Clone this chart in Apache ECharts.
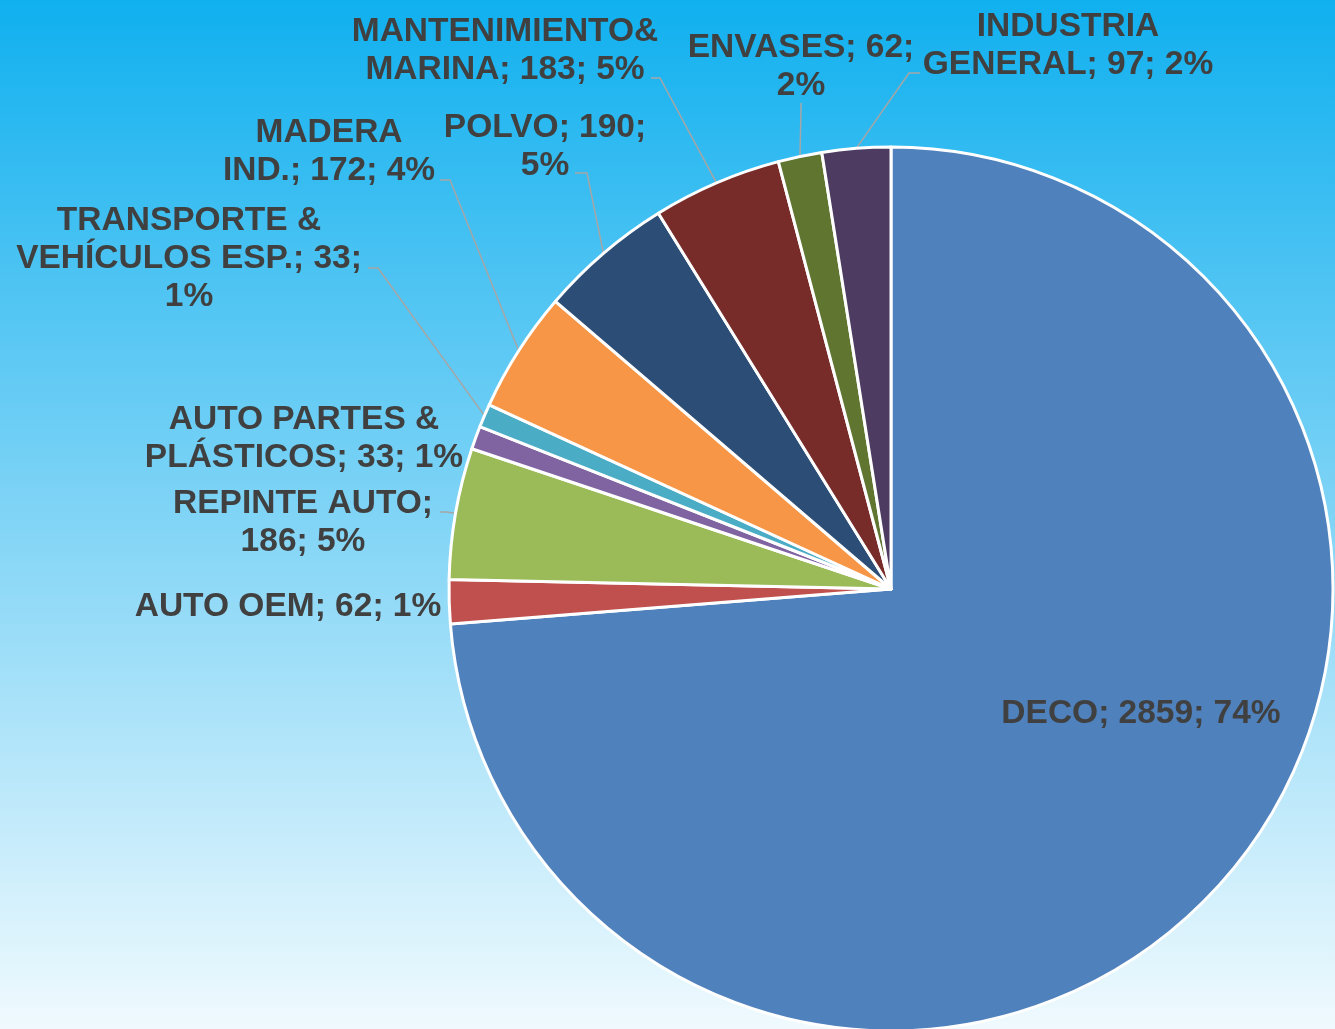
<!DOCTYPE html>
<html>
<head>
<meta charset="utf-8">
<title>Mercado por segmento</title>
<script src="https://cdn.jsdelivr.net/npm/echarts@6/dist/echarts.min.js"></script>
<style>
  html, body { margin: 0; padding: 0; }
  #chart { width: 1335px; height: 1029px; }
</style>
</head>
<body>
<div id="chart"></div>
<script>
// Segments, in clockwise order starting at 12 o'clock
const categories = [
  'DECO', 'AUTO OEM', 'REPINTE AUTO', 'AUTO PARTES & PLÁSTICOS',
  'TRANSPORTE & VEHÍCULOS ESP.', 'MADERA IND.', 'POLVO',
  'MANTENIMIENTO& MARINA', 'ENVASES', 'INDUSTRIA GENERAL'
];
const values = [2859, 62, 186, 33, 33, 172, 190, 183, 62, 97];
// Rounded shares as printed on the labels
const shareLabels = [74, 1, 5, 1, 1, 4, 5, 5, 2, 2];

const colors = ['#4F81BD', '#C0504D', '#9BBB59', '#8064A2', '#4BACC6',
                '#F79646', '#2C4D75', '#772C2A', '#5F7530', '#4D3B62'];

// ---- layout ----
const CX = 891, CY = 589, R = 442;
// words per label line
const lineWords = [[3], [4], [2, 2], [3, 3], [2, 3, 1], [1, 3], [2, 1], [1, 3], [2, 1], [1, 3]];
// label block centres
const labelPos = [
  [1141, 714], [288, 607], [303, 523], [304, 439], [189, 259],
  [329, 152], [545, 147], [505, 51], [801, 67], [1068, 46]
];
// leader lines: [end at label, elbow]; null = no line
const leaders = [
  null, null, [[440, 512], [446, 512]], null, [[368, 268], [378, 268]],
  [[440, 180], [450, 180]], [[575, 173], [587, 173]], [[651, 78], [660, 78]],
  [[801, 103], [801, 110]], [[920, 73], [909, 73]]
];

const total = values.reduce((a, b) => a + b, 0);
function edgePoint(i) {
  let before = 0;
  for (let k = 0; k < i; k++) before += values[k];
  const frac = (before + values[i] / 2) / total;
  const a = frac * Math.PI * 2; // clockwise from top
  return [CX + R * Math.sin(a), CY - R * Math.cos(a)];
}

function labelText(i) {
  const words = (categories[i] + '; ' + values[i] + '; ' + shareLabels[i] + '%').split(' ');
  const lines = [];
  let p = 0;
  lineWords[i].forEach(n => { lines.push(words.slice(p, p + n).join(' ')); p += n; });
  return lines.join('\n');
}

const chart = echarts.init(document.getElementById('chart'), null, { renderer: 'canvas' });

chart.setOption({
  animation: false,
  backgroundColor: new echarts.graphic.LinearGradient(0, 0, 0, 1, [
    { offset: 0, color: '#10B0EF' },
    { offset: 0.5, color: '#80D4F6' },
    { offset: 1, color: '#F0FAFE' }
  ]),
  series: [{
    type: 'pie',
    center: [CX, CY],
    radius: R,
    startAngle: 90,
    clockwise: true,
    avoidLabelOverlap: false,
    silent: true,
    itemStyle: { borderColor: '#FFFFFF', borderWidth: 3 },
    label: {
      show: true,
      position: 'outside',
      color: '#404040',
      fontFamily: '"Liberation Sans", Arial, sans-serif',
      fontWeight: 'bold',
      fontSize: 33.5,
      lineHeight: 38,
      align: 'center',
      formatter: p => labelText(p.dataIndex)
    },
    labelLine: { show: true, lineStyle: { color: '#A6A6A6', width: 1.5 } },
    labelLayout: p => {
      const i = p.dataIndex;
      const out = { x: labelPos[i][0], y: labelPos[i][1], align: 'center', verticalAlign: 'middle' };
      if (leaders[i]) out.labelLinePoints = [edgePoint(i), leaders[i][1], leaders[i][0]];
      return out;
    },
    data: categories.map((name, i) => ({
      name,
      value: values[i],
      itemStyle: { color: colors[i] },
      labelLine: { show: !!leaders[i] }
    }))
  }]
});
</script>
</body>
</html>
